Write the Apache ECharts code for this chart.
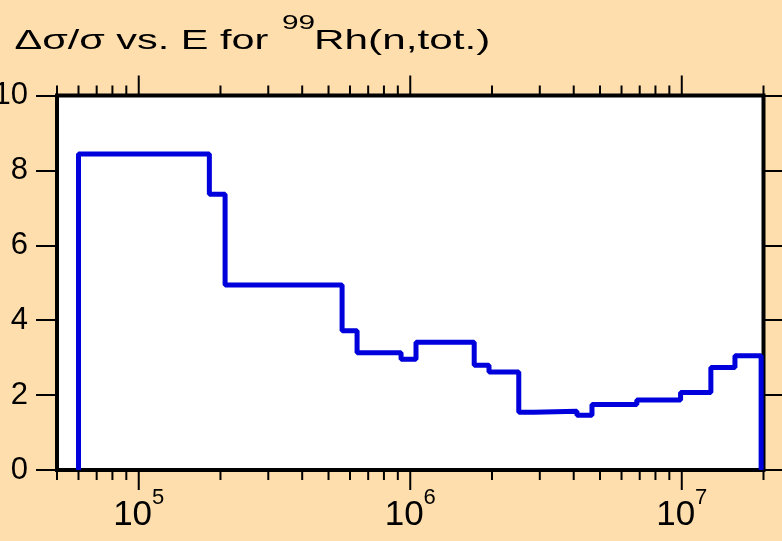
<!DOCTYPE html>
<html><head><meta charset="utf-8">
<script src="https://cdn.jsdelivr.net/npm/echarts@6/dist/echarts.min.js"></script>
<style>html,body{margin:0;padding:0;background:#FFDEAD;} #c{width:782px;height:541px;}</style>
</head><body><div id="c"></div>
<script>
// Bin edges (eV) and Δσ/σ values (%)
const binEdges = [6e4, 1.82e5, 2.08e5, 5.61e5, 6.37e5, 9.25e5, 1.05e6, 1.72e6, 1.95e6, 2.51e6, 2.85e6, 4.11e6, 4.67e6, 6.83e6, 9.9e6, 1.28e7, 1.57e7, 1.96e7];
const binValues = [8.44, 7.36, 4.94, 3.72, 3.13, 2.96, 3.41, 2.80, 2.62, 1.54, 1.57, 1.46, 1.75, 1.87, 2.07, 2.74, 3.05];
const majorTicks = [1e5, 1e6, 1e7];
const minorTicks = [5e4, 6e4, 7e4, 8e4, 9e4, 2e5, 3e5, 4e5, 5e5, 6e5, 7e5, 8e5, 9e5, 2e6, 3e6, 4e6, 5e6, 6e6, 7e6, 8e6, 9e6, 2e7];
const xMin = 5e4, xMax = 2e7;
const yMin = 0, yMax = 10, yStep = 2;
const titleText = ['Δσ/σ vs. E for ', '99', 'Rh(n,tot.)'];

const FONT = 'Liberation Sans, Arial, Helvetica, sans-serif';

const stepData = [[binEdges[0], 0]];
for (let i = 0; i < binValues.length; i++) stepData.push([binEdges[i], binValues[i]]);
stepData.push([binEdges[binEdges.length - 1], binValues[binValues.length - 1]]);
stepData.push([binEdges[binEdges.length - 1], 0]);

function tickRenderer(len) {
  return function (params, api) {
    const v = api.value(0);
    const b = api.coord([v, yMin]);
    const t = api.coord([v, yMax]);
    return {
      type: 'group',
      children: [
        { type: 'line', shape: { x1: b[0], y1: b[1], x2: b[0], y2: b[1] + len }, style: { stroke: '#000', lineWidth: 2 } },
        { type: 'line', shape: { x1: t[0], y1: t[1], x2: t[0], y2: t[1] - len }, style: { stroke: '#000', lineWidth: 2 } }
      ]
    };
  };
}

function titlePiece(text, x, y, size, sx) {
  return {
    type: 'text', x: x, y: y, scaleX: sx, originX: 0, originY: 0, silent: true,
    style: { text: text, x: 0, y: 0, align: 'left', verticalAlign: 'middle', fill: '#000', fontSize: size, fontFamily: FONT }
  };
}

const chart = echarts.init(document.getElementById('c'), null, { renderer: 'canvas' });
chart.setOption({
  animation: false,
  backgroundColor: '#FFDEAD',
  graphic: [
    titlePiece(titleText[0], 14.5, 41.5, 28, 1.48),
    titlePiece(titleText[1], 282, 23.5, 21, 1.42),
    titlePiece(titleText[2], 314, 41.5, 28, 1.51)
  ],
  grid: {
    left: 57, right: 18.5, top: 95.5, bottom: 71,
    show: true, backgroundColor: '#ffffff', borderColor: '#000', borderWidth: 4,
    containLabel: false, outerBoundsMode: 'none'
  },
  xAxis: {
    type: 'log', logBase: 10, min: xMin, max: xMax,
    axisLine: { show: false }, axisTick: { show: false }, splitLine: { show: false },
    axisLabel: {
      show: true, showMinLabel: true, showMaxLabel: true, margin: 17,
      fontSize: 35, fontFamily: FONT, color: '#000',
      formatter: function (v) {
        const e = Math.log10(v);
        if (Math.abs(e - Math.round(e)) > 1e-6) return '';
        return '{b|10}{s|' + Math.round(e) + '}';
      },
      rich: {
        b: { fontSize: 35, fontFamily: FONT, color: '#000', verticalAlign: 'bottom', lineHeight: 46 },
        s: { fontSize: 22, fontFamily: FONT, color: '#000', verticalAlign: 'top', lineHeight: 22 }
      }
    }
  },
  yAxis: [
    {
      type: 'value', min: yMin, max: yMax, interval: yStep, position: 'left',
      axisLine: { show: false }, splitLine: { show: false },
      axisTick: { show: true, length: 21, lineStyle: { color: '#000', width: 2 } },
      axisLabel: { fontSize: 31, fontFamily: FONT, color: '#000', margin: 29 }
    },
    {
      type: 'value', min: yMin, max: yMax, interval: yStep, position: 'right',
      axisLine: { show: false }, splitLine: { show: false },
      axisTick: { show: true, length: 21, lineStyle: { color: '#000', width: 2 } },
      axisLabel: { show: false }
    }
  ],
  series: [
    {
      type: 'line', step: 'end', data: stepData, showSymbol: false, symbol: 'none',
      lineStyle: { color: '#0000dd', width: 5 }, z: 5, clip: false
    },
    {
      type: 'custom', data: minorTicks.map(v => [v, 0]), renderItem: tickRenderer(10), clip: false, silent: true, z: 3
    },
    {
      type: 'custom', data: majorTicks.map(v => [v, 0]), renderItem: tickRenderer(20), clip: false, silent: true, z: 3
    }
  ]
});
</script></body></html>
